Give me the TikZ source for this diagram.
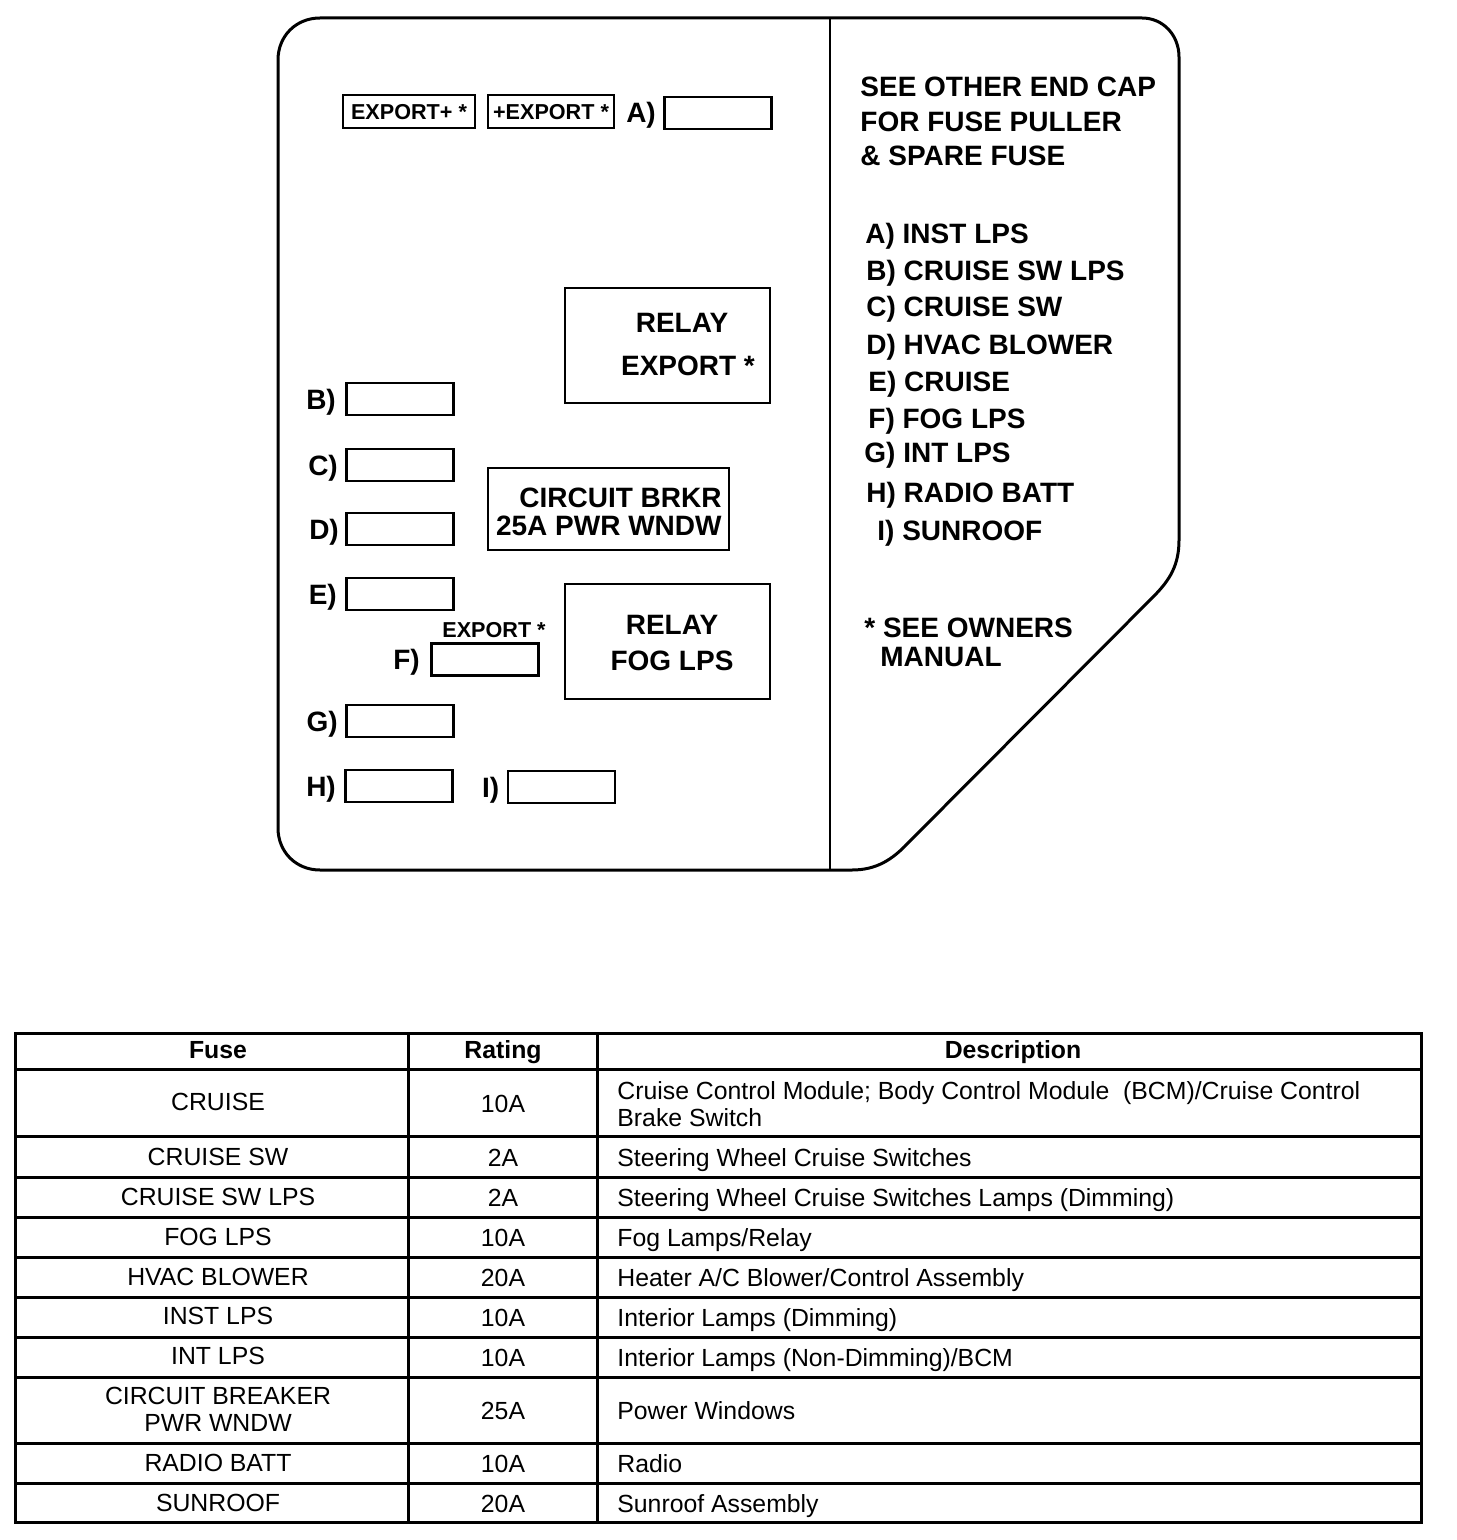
\documentclass[tikz,border=0pt]{standalone}
\usepackage{fontspec}
\setmainfont{Liberation Sans}
\usetikzlibrary{positioning}
\begin{document}
\begin{tikzpicture}[x=0.5pt,y=-0.5pt,
  outline/.style={line width=1.5pt},
  divider/.style={line width=1pt},
  fusebox/.style={draw, line width=1.3pt, minimum width=53.5pt, minimum height=16pt, inner sep=0pt},
  bigbox/.style={draw, line width=1.3pt, inner sep=0pt},
  bigtxt/.style={font=\bfseries\fontsize{14pt}{16pt}\selectfont, inner sep=0pt, text height=10pt, text depth=0pt},
  smalltxt/.style={font=\bfseries\fontsize{10.8pt}{12pt}\selectfont, inner sep=0pt, text height=7.7pt, text depth=0pt},
  thead/.style={font=\bfseries\fontsize{12.4pt}{14pt}\selectfont, inner sep=0pt, text height=8.9pt, text depth=0pt},
  tcell/.style={font=\fontsize{12.4pt}{14pt}\selectfont, inner sep=0pt, text height=8.9pt, text depth=0pt},
  tline/.style={line width=1.5pt}
]
\useasboundingbox (0,0) rectangle (1456,1540);
\fill[white] (0,0) rectangle (1456,1540);

% outline of end cap
\draw[outline, line join=round] (320,18) -- (1142,18) .. controls (1163,18) and (1179,35) .. (1179,57)
  -- (1179,540) .. controls (1179,565) and (1170,580) .. (1153,597)
  -- (908,843) .. controls (892,860) and (876,870) .. (852,870)
  -- (320,870) .. controls (296,870) and (278,852) .. (278,828)
  -- (278,60) .. controls (278,36) and (296,18) .. (320,18) -- cycle;
\coordinate (dtop) at (830,18);
\coordinate (dbot) at (830,870);
\draw[divider] (dtop) -- (dbot);

% top row
\node[bigbox, minimum width=66pt, minimum height=16.5pt] (exp1) at (409,111.5) {};
\node[smalltxt] (exp1t) at (exp1.center) {EXPORT+ *};
\node[bigbox, minimum width=63pt, minimum height=16.5pt] (exp2) at (551,111.5) {};
\node[smalltxt] (exp2t) at (exp2.center) {+EXPORT *};
\node[fusebox] (fA) at (718,113) {};
\node[bigtxt, left=3.5pt of fA] (lA) {A)};

% relay export
\node[bigbox, minimum width=102.5pt, minimum height=57.5pt] (relexp) at (667.5,345.5) {};
\node[bigtxt] (relexp1) at (682,323) {RELAY};
\node[bigtxt] (relexp2) at (688,365) {EXPORT *};

% circuit breaker
\node[bigbox, minimum width=120.5pt, minimum height=41pt] (cb) at (608.5,509) {};
\node[bigtxt, anchor=east] (cb1) at (722,497) {CIRCUIT BRKR};
\node[bigtxt, anchor=east] (cb2) at (722,525) {25A PWR WNDW};

% relay fog
\node[bigbox, minimum width=102.5pt, minimum height=57.5pt] (relfog) at (667.5,641.5) {};
\node[bigtxt] (relfog1) at (672,624) {RELAY};
\node[bigtxt] (relfog2) at (672,660) {FOG LPS};

% fuses
\node[fusebox] (fB) at (400,399) {};
\node[bigtxt, left=4.5pt of fB] (lB) {B)};
\node[fusebox] (fC) at (400,465) {};
\node[bigtxt, left=3.5pt of fC] (lC) {C)};
\node[fusebox] (fD) at (400,529) {};
\node[bigtxt, left=3pt of fD] (lD) {D)};
\node[fusebox] (fE) at (400,594) {};
\node[bigtxt, left=4pt of fE] (lE) {E)};
\node[fusebox] (fF) at (485,659.5) {};
\node[bigtxt, left=5pt of fF] (lF) {F)};
\node[smalltxt, anchor=west] (fexp) at (442,630) {EXPORT *};
\node[fusebox] (fG) at (400,721) {};
\node[bigtxt, left=3.5pt of fG] (lG) {G)};
\node[fusebox] (fH) at (399,786) {};
\node[bigtxt, left=4pt of fH] (lH) {H)};
\node[fusebox] (fI) at (561.5,787) {};
\node[bigtxt, left=3.5pt of fI] (lI) {I)};

% right side notes
\node[bigtxt, anchor=west] (n1) at (860,87) {SEE OTHER END CAP};
\node[bigtxt, anchor=west] (n2) at (860,122) {FOR FUSE PULLER};
\node[bigtxt, anchor=west] (n3) at (860,156) {\& SPARE FUSE};
\node[bigtxt, anchor=west] (kA) at (865,234) {A) INST LPS};
\node[bigtxt, anchor=west] (kB) at (866,271) {B) CRUISE SW LPS};
\node[bigtxt, anchor=west] (kC) at (866,307) {C) CRUISE SW};
\node[bigtxt, anchor=west] (kD) at (866,344) {D) HVAC BLOWER};
\node[bigtxt, anchor=west] (kE) at (868,381) {E) CRUISE};
\node[bigtxt, anchor=west] (kF) at (868,418) {F) FOG LPS};
\node[bigtxt, anchor=west] (kG) at (864,452) {G) INT LPS};
\node[bigtxt, anchor=west] (kH) at (866,492) {H) RADIO BATT};
\node[bigtxt, anchor=west] (kI) at (877,530) {I) SUNROOF};
\node[bigtxt, anchor=west] (o1) at (864,627) {* SEE OWNERS};
\node[bigtxt, anchor=west] (o2) at (880,656) {MANUAL};

% table grid
\draw[tline] (15,1033) rectangle (1421,1522);
\foreach \yy in {1069,1136,1177,1217,1257,1297,1337,1377,1443,1483}
  \draw[tline] (15,\yy) -- (1421,\yy);
\foreach \xx in {408,597}
  \draw[tline] (\xx,1033) -- (\xx,1522);

% header
\node[thead] (hF) at (218,1050) {Fuse};
\node[thead] (hR) at (503,1050) {Rating};
\node[thead] (hD) at (1013,1050) {Description};

% rows
\node[tcell] (f1) at (218,1102) {CRUISE};
\node[tcell] (r1) at (503,1104) {10A};
\node[tcell, anchor=west] (d1a) at (617,1091) {Cruise Control Module; Body Control Module \ (BCM)/Cruise Control};
\node[tcell, anchor=west] (d1b) at (617,1118) {Brake Switch};

\node[tcell] (f2) at (218,1157) {CRUISE SW};
\node[tcell] (r2) at (503,1158) {2A};
\node[tcell, anchor=west] (d2) at (617,1158) {Steering Wheel Cruise Switches};

\node[tcell] (f3) at (218,1197) {CRUISE SW LPS};
\node[tcell] (r3) at (503,1198) {2A};
\node[tcell, anchor=west] (d3) at (617,1198) {Steering Wheel Cruise Switches Lamps (Dimming)};

\node[tcell] (f4) at (218,1237) {FOG LPS};
\node[tcell] (r4) at (503,1238) {10A};
\node[tcell, anchor=west] (d4) at (617,1238) {Fog Lamps/Relay};

\node[tcell] (f5) at (218,1277) {HVAC BLOWER};
\node[tcell] (r5) at (503,1278) {20A};
\node[tcell, anchor=west] (d5) at (617,1278) {Heater A/C Blower/Control Assembly};

\node[tcell] (f6) at (218,1316) {INST LPS};
\node[tcell] (r6) at (503,1318) {10A};
\node[tcell, anchor=west] (d6) at (617,1318) {Interior Lamps (Dimming)};

\node[tcell] (f7) at (218,1356) {INT LPS};
\node[tcell] (r7) at (503,1358) {10A};
\node[tcell, anchor=west] (d7) at (617,1358) {Interior Lamps (Non-Dimming)/BCM};

\node[tcell] (f8a) at (218,1396) {CIRCUIT BREAKER};
\node[tcell] (f8b) at (218,1423) {PWR WNDW};
\node[tcell] (r8) at (503,1411) {25A};
\node[tcell, anchor=west] (d8) at (617,1411) {Power Windows};

\node[tcell] (f9) at (218,1463) {RADIO BATT};
\node[tcell] (r9) at (503,1464) {10A};
\node[tcell, anchor=west] (d9) at (617,1464) {Radio};

\node[tcell] (f10) at (218,1503) {SUNROOF};
\node[tcell] (r10) at (503,1504) {20A};
\node[tcell, anchor=west] (d10) at (617,1504) {Sunroof Assembly};
\end{tikzpicture}
\end{document}
